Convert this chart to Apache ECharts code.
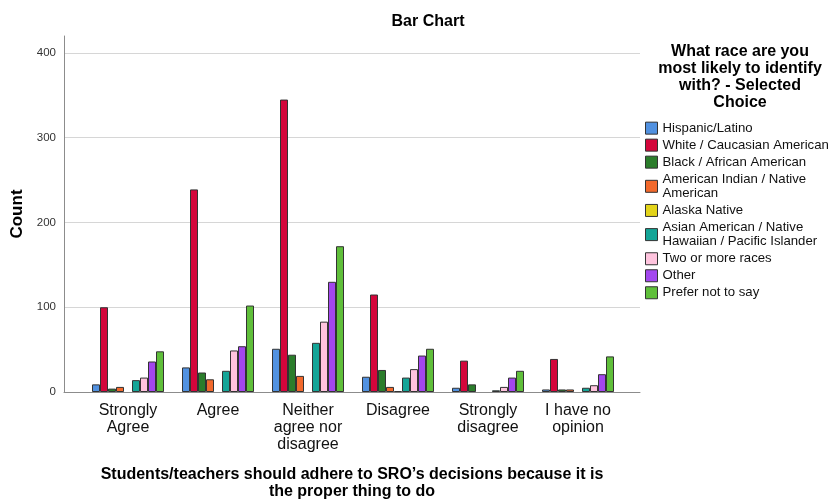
<!DOCTYPE html>
<html>
<head>
<meta charset="utf-8">
<script src="https://cdn.jsdelivr.net/npm/echarts@6/dist/echarts.min.js"></script>
<style>html,body{margin:0;padding:0;background:#fff;}#c{width:831px;height:499px;}</style>
</head>
<body>
<div id="c"></div>
<script>
const categories = ['Strongly Agree', 'Agree', 'Neither agree nor disagree', 'Disagree', 'Strongly disagree', 'I have no opinion'];
const tickLabels = ['Strongly\nAgree', 'Agree', 'Neither\nagree nor\ndisagree', 'Disagree', 'Strongly\ndisagree', 'I have no\nopinion'];
const seriesNames = ['Hispanic/Latino', 'White / Caucasian American', 'Black / African American', 'American Indian / Native American', 'Alaska Native', 'Asian American / Native Hawaiian / Pacific Islander', 'Two or more races', 'Other', 'Prefer not to say'];
const legendLabels = ['Hispanic/Latino', 'White / Caucasian American', 'Black / African American', 'American Indian / Native\nAmerican', 'Alaska Native', 'Asian American / Native\nHawaiian / Pacific Islander', 'Two or more races', 'Other', 'Prefer not to say'];
const hispanic = [9, 29, 51, 18, 5, 3];
const white = [100, 239, 345, 115, 37, 39];
const black = [4, 23, 44, 26, 9, 3];
const amIndian = [6, 15, 19, 6, 0, 3];
const alaska = [0, 0, 0, 1, 0, 0];
const asian = [14, 25, 58, 17, 2, 5];
const twoOrMore = [17, 49, 83, 27, 6, 8];
const other = [36, 54, 130, 43, 17, 21];
const preferNot = [48, 102, 172, 51, 25, 42];
const yTicks = [0, 100, 200, 300, 400];
const seriesValues = [hispanic, white, black, amIndian, alaska, asian, twoOrMore, other, preferNot];
const colors = ['#5191e0', '#d4063b', '#2b7d2b', '#f2692c', '#e3d41a', '#14a597', '#ffc4de', '#a347ee', '#5fbf3a'];

const FONT = 'Liberation Sans, Arial, sans-serif';
const chart = echarts.init(document.getElementById('c'), null, {renderer: 'canvas'});
const series = seriesNames.map((n, i) => ({
  name: n, type: 'bar', xAxisIndex: 1, yAxisIndex: 1,
  // zero counts draw no bar at all (leave an empty slot)
  data: seriesValues[i].map(v => v === 0 ? null : v),
  barGap: '0%', barCategoryGap: '20%',
  itemStyle: {color: colors[i], borderColor: '#333', borderWidth: 1},
  emphasis: {disabled: true}
}));
chart.setOption({
  animation: false,
  textStyle: {fontFamily: FONT},
  title: [
    {text: 'Bar Chart', left: 428, top: 14, textAlign: 'center', padding: 0,
     textStyle: {fontFamily: FONT, fontSize: 16, fontWeight: 'bold', color: '#000'}},
    {text: 'What race are you\nmost likely to identify\nwith? - Selected\nChoice', left: 740, top: 43, textAlign: 'center', padding: 0,
     textStyle: {fontFamily: FONT, fontSize: 16, fontWeight: 'bold', color: '#000', lineHeight: 17}},
    {text: 'Students/teachers should adhere to SRO\u2019s decisions because it is\nthe proper thing to do', left: 352, top: 466, textAlign: 'center', padding: 0,
     textStyle: {fontFamily: FONT, fontSize: 16, fontWeight: 'bold', color: '#000', lineHeight: 17}}
  ],
  legend: {
    orient: 'vertical', left: 645, top: 121, padding: 0,
    itemWidth: 12, itemHeight: 12, itemGap: 2.7,
    icon: 'rect',
    itemStyle: {borderColor: '#333', borderWidth: 1},
    textStyle: {fontFamily: FONT, fontSize: 13.2, lineHeight: 14.3, color: '#111'},
    formatter: name => legendLabels[seriesNames.indexOf(name)],
    data: seriesNames
  },
  grid: [
    {left: 64, width: 576, top: 36, height: 356},
    {left: 83, width: 540, top: 36, height: 356}
  ],
  xAxis: [
    {type: 'value', gridIndex: 0, min: 0, max: 1, axisLabel: {show: false}, axisTick: {show: false}, splitLine: {show: false},
     axisLine: {show: true, lineStyle: {color: '#8c8c8c', width: 1}}},
    {type: 'category', gridIndex: 1, data: categories, axisLine: {show: false}, axisTick: {show: false},
     axisLabel: {formatter: (v, i) => tickLabels[i], fontFamily: FONT, fontSize: 16, lineHeight: 17.2, color: '#111', margin: 10, interval: 0}}
  ],
  yAxis: [
    {type: 'value', gridIndex: 0, min: 0, max: 420, interval: 100,
     axisLine: {show: true, lineStyle: {color: '#8c8c8c', width: 1}}, axisTick: {show: false},
     axisLabel: {showMaxLabel: false, fontFamily: FONT, fontSize: 11.5, color: '#333', margin: 8, formatter: v => yTicks.includes(v) ? String(v) : ''},
     splitLine: {show: true, showMaxLine: false, lineStyle: {color: '#d6d6d6', width: 1}},
     name: 'Count', nameLocation: 'middle', nameGap: 36,
     nameTextStyle: {fontFamily: FONT, fontSize: 17, fontWeight: 'bold', color: '#000'}},
    {type: 'value', gridIndex: 1, min: 0, max: 420, interval: 100, show: false, splitLine: {show: false}}
  ],
  series: series
});
</script>
</body>
</html>
